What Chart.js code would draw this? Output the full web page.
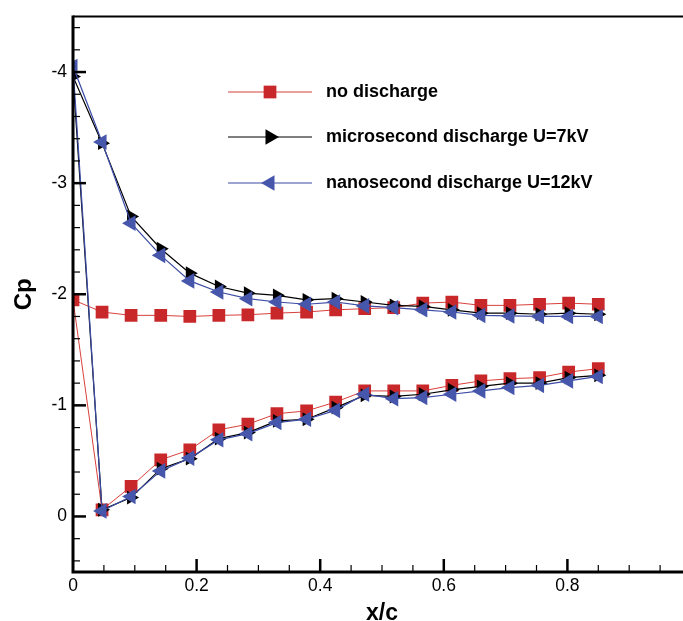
<!DOCTYPE html>
<html>
<head>
<meta charset="utf-8">
<script src="https://cdn.jsdelivr.net/npm/chart.js@4/dist/chart.umd.min.js"></script>
<style>
  html, body { margin: 0; padding: 0; background: #fff; }
  #wrap { width: 683px; height: 621px; overflow: hidden; position: relative; }
  canvas { display: block; }
</style>
</head>
<body>
<div id="wrap"><canvas id="c" width="700" height="625" style="width:700px;height:625px"></canvas></div>
<script>
// ---- data ----
const xSurface = [0.047, 0.094, 0.142, 0.189, 0.236, 0.283, 0.330, 0.378, 0.425, 0.472, 0.519, 0.566, 0.613, 0.660, 0.707, 0.755, 0.802, 0.850];
const xLeadingEdge = 0;

const noDischargeLE = -1.95;
const noDischargeUpper = [-1.84, -1.81, -1.81, -1.80, -1.81, -1.815, -1.83, -1.84, -1.86, -1.87, -1.88, -1.92, -1.93, -1.90, -1.90, -1.91, -1.92, -1.91];
const noDischargeLower = [-0.06, -0.27, -0.51, -0.60, -0.78, -0.83, -0.925, -0.95, -1.03, -1.13, -1.13, -1.13, -1.18, -1.22, -1.24, -1.25, -1.30, -1.33];

const microLE = -3.96;
const microUpper = [-3.36, -2.70, -2.41, -2.19, -2.07, -2.01, -1.99, -1.95, -1.96, -1.93, -1.90, -1.89, -1.86, -1.83, -1.83, -1.82, -1.83, -1.82];
const microLower = [-0.06, -0.17, -0.43, -0.52, -0.70, -0.755, -0.86, -0.875, -0.98, -1.09, -1.08, -1.10, -1.14, -1.17, -1.20, -1.20, -1.25, -1.27];

const nanoLE = -4.05;
const nanoUpper = [-3.37, -2.64, -2.35, -2.12, -2.02, -1.96, -1.93, -1.91, -1.93, -1.895, -1.88, -1.86, -1.84, -1.81, -1.805, -1.80, -1.80, -1.80];
const nanoLower = [-0.05, -0.18, -0.41, -0.525, -0.69, -0.745, -0.845, -0.875, -0.955, -1.10, -1.06, -1.07, -1.10, -1.13, -1.16, -1.18, -1.22, -1.26];

const seriesLabels = ['no discharge', 'microsecond discharge U=7kV', 'nanosecond discharge U=12kV'];
const xTickValues = [0, 0.2, 0.4, 0.6, 0.8];
const yTickValues = [-4, -3, -2, -1, 0];

// path: lower surface (trailing -> leading), leading edge, upper surface (leading -> trailing)
function buildPath(le, upper, lower) {
  const pts = [];
  for (let i = lower.length - 1; i >= 0; i--) pts.push({x: xSurface[i], y: lower[i]});
  pts.push({x: xLeadingEdge, y: le});
  for (let i = 0; i < upper.length; i++) pts.push({x: xSurface[i], y: upper[i]});
  return pts;
}

const FONT = "'Liberation Sans', Arial, Helvetica, sans-serif";

const datasets = [
  {
    label: seriesLabels[0],
    data: buildPath(noDischargeLE, noDischargeUpper, noDischargeLower),
    borderColor: '#d8403c', borderWidth: 1,
    pointStyle: 'rect', pointRadius: 9, pointRotation: 0,
    pointBackgroundColor: '#c8282a', pointBorderColor: '#c8282a', pointBorderWidth: 0,
    order: 3
  },
  {
    label: seriesLabels[1],
    data: buildPath(microLE, microUpper, microLower),
    borderColor: '#000000', borderWidth: 1.2,
    pointStyle: 'triangle', pointRadius: 8, pointRotation: 90,
    pointBackgroundColor: '#000000', pointBorderColor: '#000000', pointBorderWidth: 0,
    order: 2
  },
  {
    label: seriesLabels[2],
    data: buildPath(nanoLE, nanoUpper, nanoLower),
    borderColor: '#3b4ca6', borderWidth: 1.2,
    pointStyle: 'triangle', pointRadius: 9, pointRotation: -90,
    pointBackgroundColor: '#4656aa', pointBorderColor: '#4656aa', pointBorderWidth: 0,
    order: 1
  }
];

// inward tick marks + frame + in-plot legend
const framePlugin = {
  id: 'frame',
  afterDraw(chart) {
    const {ctx, chartArea: a, scales: {x, y}} = chart;
    ctx.save();
    ctx.strokeStyle = '#000';
    for (let k = -22; k <= 2; k++) {
      const v = k / 5;
      const major = k % 5 === 0;
      const py = y.getPixelForValue(v);
      if (py < a.top + 2 || py > a.bottom - 2) continue;
      ctx.lineWidth = major ? 2.5 : 1.2;
      ctx.beginPath();
      ctx.moveTo(a.left, py);
      ctx.lineTo(a.left + (major ? 13 : 7), py);
      ctx.stroke();
    }
    for (let k = 1; k <= 19; k++) {
      const v = k / 20;
      const major = k % 4 === 0;
      const px = x.getPixelForValue(v);
      ctx.lineWidth = major ? 2.5 : 1.2;
      ctx.beginPath();
      ctx.moveTo(px, a.bottom);
      ctx.lineTo(px, a.bottom - (major ? 13 : 7));
      ctx.stroke();
    }
    ctx.lineWidth = 2;
    ctx.beginPath();
    ctx.moveTo(a.left, a.top);
    ctx.lineTo(a.right, a.top);
    ctx.lineTo(a.right, a.bottom);
    ctx.stroke();
    ctx.lineWidth = 3;
    ctx.beginPath();
    ctx.moveTo(a.left, a.top - 1);
    ctx.lineTo(a.left, a.bottom);
    ctx.lineTo(a.right, a.bottom);
    ctx.stroke();

    const rows = [92, 137, 183];
    chart.data.datasets.forEach((ds, i) => {
      const ly = rows[i];
      ctx.strokeStyle = ds.borderColor;
      ctx.lineWidth = ds.borderWidth;
      ctx.beginPath();
      ctx.moveTo(228, ly);
      ctx.lineTo(312, ly);
      ctx.stroke();
      ctx.fillStyle = ds.pointBackgroundColor;
      Chart.helpers.drawPoint(ctx, {
        pointStyle: ds.pointStyle,
        radius: 9,
        rotation: ds.pointRotation,
        borderWidth: 0
      }, 270, ly);
      ctx.fillStyle = '#000';
      ctx.font = 'bold 18px ' + FONT;
      ctx.textBaseline = 'middle';
      ctx.textAlign = 'left';
      ctx.fillText(ds.label, 326, ly);
    });
    ctx.restore();
  }
};

new Chart(document.getElementById('c'), {
  type: 'line',
  data: { datasets },
  options: {
    responsive: false,
    animation: false,
    devicePixelRatio: 1,
    layout: { padding: { top: 12, right: 9, left: 0, bottom: 0 } },
    plugins: { legend: { display: false }, tooltip: { enabled: false } },
    elements: { line: { tension: 0, fill: false } },
    scales: {
      x: {
        type: 'linear', min: 0, max: 1,
        afterFit(s) { s.height = 53; },
        afterBuildTicks(s) { s.ticks = xTickValues.map(v => ({value: v})); },
        grid: { display: false, drawTicks: false },
        border: { display: false },
        ticks: { padding: 4, color: '#000', font: { family: FONT, size: 17.5 }, callback: v => String(v) },
        title: { display: true, text: 'x/c', color: '#000', font: { family: FONT, size: 23, weight: 'bold', lineHeight: 1 }, padding: 0 }
      },
      y: {
        type: 'linear', min: -4.5, max: 0.5, reverse: true,
        afterFit(s) { s.width = 73; },
        afterBuildTicks(s) { s.ticks = yTickValues.map(v => ({value: v})); },
        grid: { display: false, drawTicks: false },
        border: { display: false },
        ticks: { padding: 6, color: '#000', font: { family: FONT, size: 17.5 }, callback: v => String(v) },
        title: { display: true, text: 'Cp', color: '#000', font: { family: FONT, size: 24, weight: 'bold', lineHeight: 1 }, padding: { top: 12, bottom: 0 } }
      }
    }
  },
  plugins: [framePlugin]
});
</script>
</body>
</html>
